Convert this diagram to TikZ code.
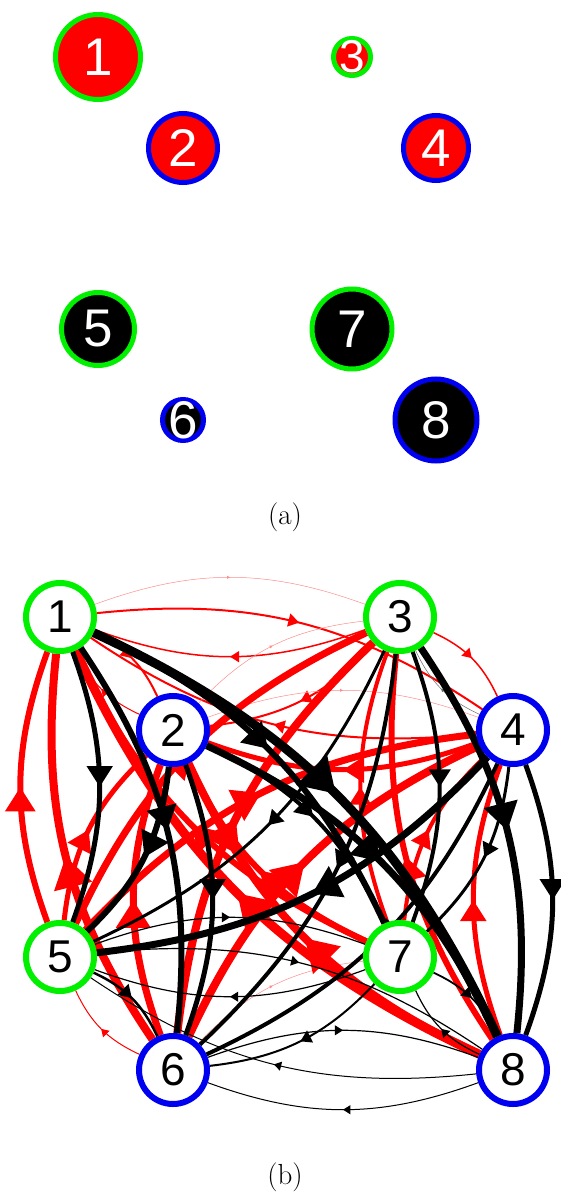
\documentclass[tikz,border=0pt]{standalone}
\usepackage{fontspec}
\usepackage{tikz}
\usetikzlibrary{arrows.meta,decorations.markings,backgrounds}
\newfontfamily\digitfont{Liberation Sans}
\definecolor{ringgreen}{RGB}{0,240,0}
\definecolor{ringblue}{RGB}{0,0,240}
\tikzstyle{anode} = [circle, draw, line width=5pt, inner sep=0pt]
\tikzstyle{alabel} = [text=white, inner sep=0pt, font=\digitfont\fontsize{53}{62}\selectfont]
\tikzstyle{bnode} = [circle, draw, fill=white, line width=6pt, minimum size=68pt, inner sep=0pt, font=\digitfont\fontsize{46}{54}\selectfont]
\tikzstyle{caption} = [font=\fontsize{29}{34}\selectfont]
\tikzstyle{wire} = [bend left=20, postaction={decorate, decoration={markings, mark=at position 0.5 with {\arrow{Triangle[length=4pt 3.4, width=5pt 4]}}}}]
\tikzstyle{faint} = [bend left=20, line width=0.5pt, postaction={decorate, decoration={markings, mark=at position 0.5 with {\arrow{Triangle[length=3pt, width=3pt]}}}}]

\begin{document}
\begin{tikzpicture}[x=1pt,y=1pt]
	\useasboundingbox (0,0) rectangle (560,-1198);
	% (a) filled circles
	\node[anode, fill=red, draw=ringgreen, minimum size=85pt] (a1) at (98,-57) {};
	\node[anode, fill=red, draw=ringblue, minimum size=69pt] (a2) at (183,-148) {};
	\node[anode, fill=red, draw=ringgreen, minimum size=37pt] (a3) at (352,-57) {};
	\node[anode, fill=red, draw=ringblue, minimum size=65pt] (a4) at (436,-148) {};
	\node[anode, fill=black, draw=ringgreen, minimum size=73pt] (a5) at (98,-329) {};
	\node[anode, fill=black, draw=ringblue, minimum size=41pt] (a6) at (183,-420) {};
	\node[anode, fill=black, draw=ringgreen, minimum size=80pt] (a7) at (352,-329) {};
	\node[anode, fill=black, draw=ringblue, minimum size=82pt] (a8) at (436,-420) {};
	\node[alabel] at (a1) {1};
	\node[alabel] at (a2) {2};
	\node[alabel, font=\digitfont\fontsize{46}{54}\selectfont] at (a3) {3};
	\node[alabel] at (a4) {4};
	\node[alabel] at (a5) {5};
	\node[alabel] at (a6) {6};
	\node[alabel] at (a7) {7};
	\node[alabel] at (a8) {8};
	\node[caption] (capa) at (285,-517) {(a)};
	% (b) graph
	\node[bnode, draw=ringgreen] (b1) at (60,-617) {1};
	\node[bnode, draw=ringblue] (b2) at (173,-730) {2};
	\node[bnode, draw=ringgreen] (b3) at (400,-617) {3};
	\node[bnode, draw=ringblue] (b4) at (513,-730) {4};
	\node[bnode, draw=ringgreen] (b5) at (60,-957) {5};
	\node[bnode, draw=ringblue] (b6) at (173,-1070) {6};
	\node[bnode, draw=ringgreen] (b7) at (400,-957) {7};
	\node[bnode, draw=ringblue] (b8) at (513,-1070) {8};
	\node[caption] (capb) at (285,-1177) {(b)};
	\begin{pgfonlayer}{background}
	% red links
	\draw[wire, red, line width=2pt] (b1) to (b2);
	\draw[wire, red, line width=1pt] (b2) to (b1);
	\draw[faint, red!45] (b1) to (b3);
	\draw[wire, red, line width=1.5pt] (b3) to (b1);
	\draw[wire, red, line width=2pt] (b1) to (b4);
	\draw[wire, red, line width=2pt] (b4) to (b1);
	\draw[faint, red!45] (b2) to (b3);
	\draw[wire, red, line width=2pt] (b3) to (b2);
	\draw[faint, red!45] (b2) to (b4);
	\draw[wire, red, line width=5pt] (b4) to (b2);
	\draw[wire, red, line width=1.5pt] (b3) to (b4);
	\draw[faint, black!60] (b4) to (b3);
	\draw[wire, red, line width=6pt] (b5) to (b1);
	\draw[wire, red, line width=5pt] (b5) to (b2);
	\draw[wire, red, line width=7pt] (b5) to (b3);
	\draw[wire, red, line width=7pt] (b5) to (b4);
	\draw[wire, red, line width=8pt] (b6) to (b1);
	\draw[wire, red, line width=7pt] (b6) to (b2);
	\draw[wire, red, line width=8pt] (b6) to (b3);
	\draw[wire, red, line width=8pt] (b6) to (b4);
	\draw[wire, red, line width=1pt] (b6) to (b5);
	\draw[faint, red!45] (b6) to (b7);
	\draw[wire, red, line width=6pt] (b7) to (b1);
	\draw[wire, red, line width=6pt] (b7) to (b2);
	\draw[wire, red, line width=4pt] (b7) to (b3);
	\draw[wire, red, line width=4pt] (b7) to (b4);
	\draw[wire, red, line width=9pt] (b8) to (b1);
	\draw[wire, red, line width=8pt] (b8) to (b2);
	\draw[wire, red, line width=6pt] (b8) to (b3);
	\draw[wire, red, line width=5pt] (b8) to (b4);
	% black links
	\draw[wire, line width=5pt] (b1) to (b5);
	\draw[wire, line width=6pt] (b1) to (b6);
	\draw[wire, line width=6pt] (b1) to (b7);
	\draw[wire, line width=9pt] (b1) to (b8);
	\draw[wire, line width=6pt] (b2) to (b5);
	\draw[wire, line width=5pt] (b2) to (b6);
	\draw[wire, line width=4pt] (b2) to (b7);
	\draw[wire, line width=7pt] (b2) to (b8);
	\draw[wire, line width=3pt] (b3) to (b5);
	\draw[wire, line width=4pt] (b3) to (b6);
	\draw[wire, line width=4pt] (b3) to (b7);
	\draw[wire, line width=7pt] (b3) to (b8);
	\draw[wire, line width=7pt] (b4) to (b5);
	\draw[wire, line width=4pt] (b4) to (b6);
	\draw[wire, line width=3pt] (b4) to (b7);
	\draw[wire, line width=5pt] (b4) to (b8);
	\draw[wire, line width=2.5pt] (b5) to (b6);
	\draw[wire, line width=1.2pt] (b5) to (b7);
	\draw[wire, line width=1.2pt] (b5) to (b8);
	\draw[wire, line width=1.2pt] (b6) to (b8);
	\draw[wire, line width=1.2pt] (b7) to (b5);
	\draw[wire, line width=2pt] (b7) to (b6);
	\draw[wire, line width=1.8pt] (b7) to (b8);
	\draw[wire, line width=1pt] (b8) to (b5);
	\draw[wire, line width=1pt] (b8) to (b6);
	\draw[wire, line width=1.2pt] (b8) to (b7);
	\end{pgfonlayer}
\end{tikzpicture}
\end{document}
